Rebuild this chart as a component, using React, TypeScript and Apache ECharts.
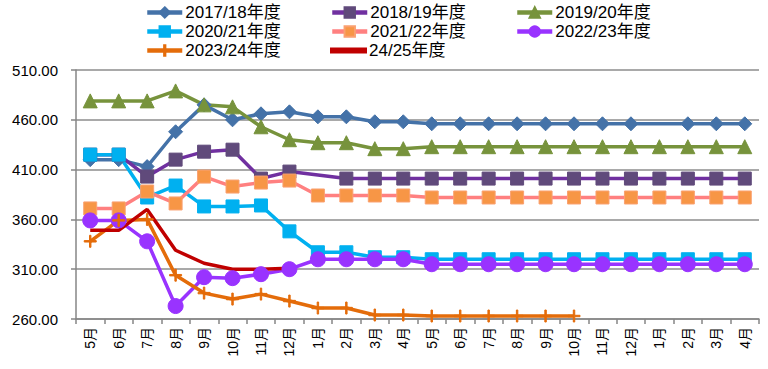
import React, { useEffect, useRef } from "react";
import * as echarts from "echarts";

const categories = ["5月","6月","7月","8月","9月","10月","11月","12月","1月","2月","3月","4月","5月","6月","7月","8月","9月","10月","11月","12月","1月","2月","3月","4月"];

const s1718 = [420,420,413,448,475,460,466,468,463,463,458,458,456,456,456,456,456,456,456,456,null,456,456,456];
const s1819 = [425,425,403,420,428,430,401,408,null,401,401,401,401,401,401,401,401,401,401,401,401,401,401,401];
const s1920 = [479,479,479,489,475,473,453,440,437,437,431,431,433,433,433,433,433,433,433,433,433,433,433,433];
const s2021 = [425,425,382,394,373,373,374,348,327,327,322,322,320,320,320,320,320,320,320,320,320,320,320,320];
const s2122 = [371,371,388,376,403,393,397,399,384,384,384,384,382,382,382,382,382,382,382,382,382,382,382,382];
const s2223 = [359,359,338,273,302,301,305,310,320,320,320,320,315,315,315,315,315,315,315,315,315,315,315,315];
const s2324 = [338,359,360,304,286,280,285,278,271,271,264,264,263,263,263,263,263,263];
const s2425 = [349,349,370,329,316,310,310,311];

const yTicks = [260, 310, 360, 410, 460, 510];

const names = ["2017/18年度","2018/19年度","2019/20年度","2020/21年度","2021/22年度","2022/23年度","2023/24年度","24/25年度"];

const plusPath = "path://M4.4,0h1.2v4.4h4.4v1.2h-4.4v4.4h-1.2v-4.4h-4.4v-1.2h4.4z";

export default function App() {
  const ref = useRef<HTMLDivElement>(null);
  useEffect(() => {
    if (!ref.current) return;
    const chart = echarts.init(ref.current, undefined, { renderer: "svg" });
    const mk = (name: string, data: any[], color: string, symbol: string, size: number, markerColor?: string, borderColor?: string) => ({
      name,
      type: "line",
      data,
      connectNulls: true,
      symbol,
      symbolSize: size,
      showSymbol: symbol !== "none",
      lineStyle: { color, width: 3.5 },
      itemStyle: { color: markerColor || color, borderColor: borderColor || markerColor || color, borderWidth: 1 },
      emphasis: { disabled: true },
    });
    const series = [
      mk(names[0], s1718, "#4472A8", "diamond", 14, "#4472A8"),
      mk(names[1], s1819, "#7030A0", "rect", 13, "#604A7B"),
      mk(names[2], s1920, "#77933C", "triangle", 14, "#77933C"),
      mk(names[3], s2021, "#00B0F0", "rect", 13, "#00B0F0"),
      mk(names[4], s2122, "#FF8080", "rect", 13, "#F79646", "#FAA070"),
      mk(names[5], s2223, "#9933FF", "circle", 15, "#9933FF"),
      mk(names[6], s2324, "#E46C0A", plusPath, 12, "#E46C0A"),
      mk(names[7], s2425, "#C00000", "none", 1, "#C00000"),
    ];
    const colX = [145, 330, 515];
    const rowY = [4, 23, 42];
    const legends = names.map((n, i) => {
      const isLine = i === 7;
      return {
        data: [isLine ? { name: n, icon: "rect", itemStyle: { color: "#C00000" } } : n],
        left: colX[i % 3],
        top: rowY[Math.floor(i / 3)],
        itemWidth: 35,
        itemHeight: isLine ? 4 : 13,
        itemGap: 0,
        padding: 0,
        lineStyle: { width: 4.5 },
        textStyle: { fontSize: 17, color: "#000", fontFamily: "Liberation Sans, Noto Sans CJK SC, sans-serif", padding: [0, 0, 0, -2] },
        selectedMode: false,
      };
    });
    chart.setOption({
      animation: false,
      legend: legends,
      grid: { left: 76, right: 9, top: 70, bottom: 50, containLabel: false },
      xAxis: {
        type: "category",
        data: categories,
        boundaryGap: true,
        axisLine: { lineStyle: { color: "#868686", width: 1.5 } },
        axisTick: { show: true, alignWithLabel: false, length: 5, lineStyle: { color: "#868686", width: 1.5 } },
        axisLabel: { rotate: 90, fontSize: 14, color: "#000", margin: 8, interval: 0, fontFamily: "Liberation Sans, Noto Sans CJK SC, sans-serif" },
        splitLine: { show: false },
      },
      yAxis: {
        type: "value",
        min: yTicks[0],
        max: yTicks[yTicks.length - 1],
        interval: 50,
        axisLine: { show: true, lineStyle: { color: "#868686", width: 1.5 } },
        axisTick: { show: true, length: 5, lineStyle: { color: "#868686", width: 1.5 } },
        axisLabel: { fontSize: 15, color: "#000", margin: 18, formatter: (v: number) => v.toFixed(2), fontFamily: "Liberation Sans, sans-serif" },
        splitLine: { show: true, lineStyle: { color: "#8C8C8C", width: 1.5 } },
      },
      series,
    });
    return () => chart.dispose();
  }, []);
  return <div ref={ref} style={{ width: 768, height: 369, position: "absolute", left: 0, top: 0, background: "#fff" }} />;
}
